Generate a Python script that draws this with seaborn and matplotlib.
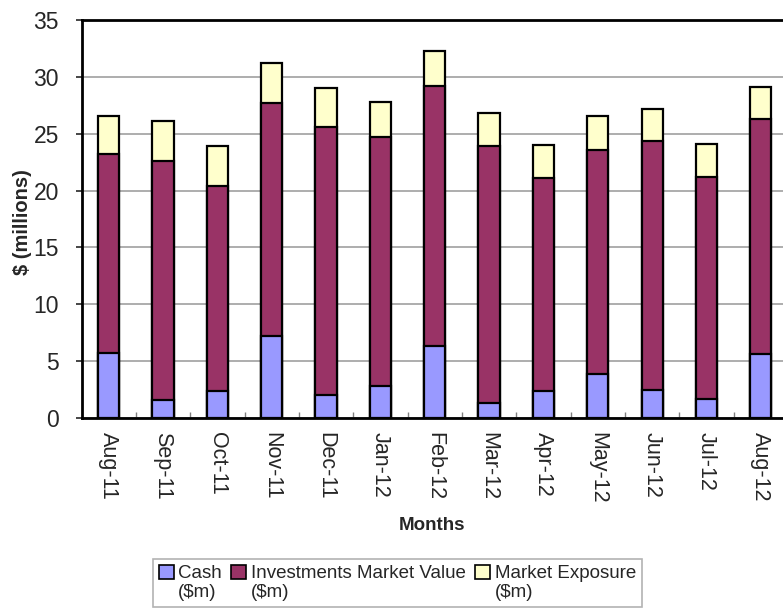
import numpy as np
import pandas as pd
import seaborn as sns
import matplotlib
matplotlib.use("Agg")
import matplotlib.pyplot as plt
from matplotlib.patches import Patch
from matplotlib.ticker import FixedLocator

months = ["Aug-11", "Sep-11", "Oct-11", "Nov-11", "Dec-11", "Jan-12", "Feb-12",
          "Mar-12", "Apr-12", "May-12", "Jun-12", "Jul-12", "Aug-12"]
cash = [5.7, 1.6, 2.4, 7.2, 2.0, 2.8, 6.3, 1.3, 2.4, 3.9, 2.5, 1.7, 5.6]
investments = [17.5, 21.0, 18.0, 20.5, 23.6, 21.9, 22.9, 22.6, 18.7, 19.7, 21.9, 19.5, 20.7]
exposure = [3.4, 3.5, 3.5, 3.5, 3.4, 3.1, 3.1, 2.9, 2.9, 3.0, 2.8, 2.9, 2.8]

labels = ["Cash\n($m)", "Investments Market Value\n($m)", "Market Exposure\n($m)"]
colors = ["#9999FF", "#993366", "#FFFFCC"]

sns.set_style("white")
plt.rcParams["font.family"] = ["Liberation Sans", "DejaVu Sans"]

df = pd.DataFrame({"month": months, "cash": cash, "inv": investments, "exp": exposure})
df["lvl1"] = df["cash"]
df["lvl2"] = df["cash"] + df["inv"]
df["lvl3"] = df["lvl2"] + df["exp"]

fig = plt.figure(figsize=(7.83, 6.14), dpi=100)
ax = fig.add_axes([82 / 783, (614 - 418) / 614, (788 - 82) / 783, (418 - 20) / 614])

width = 0.39
for col, c in [("lvl3", colors[2]), ("lvl2", colors[1]), ("lvl1", colors[0])]:
    sns.barplot(data=df, x="month", y=col, color=c, width=width, edgecolor="black",
                linewidth=1.6, saturation=1, ax=ax, zorder=3)

ax.set_xlim(-0.49, 12.5)
ax.set_ylim(0, 35)
ax.set_yticks(np.arange(0, 36, 5))
ax.yaxis.grid(True, color="#A0A0A0", linewidth=1.2, zorder=0)
ax.set_axisbelow(True)

for s in ["left", "top", "bottom"]:
    ax.spines[s].set_linewidth(2)
    ax.spines[s].set_color("black")
ax.spines["right"].set_visible(False)

ax.tick_params(axis="y", which="major", direction="out", length=4.5, width=1.2,
               labelsize=16.5, pad=12, left=True)
ax.tick_params(axis="x", which="major", length=0, labelsize=15.5, pad=10)
ax.set_xticks(range(len(months)))
ax.set_xticklabels(months, rotation=270, va="top", ha="center")
ax.xaxis.set_minor_locator(FixedLocator(np.arange(0.5, 12, 1)))
ax.tick_params(axis="x", which="minor", direction="in", length=4, width=1,
               color="#808080", bottom=True)

ax.set_xlabel("Months", fontsize=13.5, fontweight="bold")
ax.set_ylabel("$ (millions)", fontsize=14.5, fontweight="bold")
ax.xaxis.set_label_coords((432 - 82) / (788 - 82), -(517 - 418) / 398)
ax.yaxis.set_label_coords(-(82 - 32) / 706, (418 - 222) / 398)

handles = [Patch(facecolor=c, edgecolor="black", linewidth=1.2) for c in colors]
leg = fig.legend(handles, labels, loc="upper left",
                 bbox_to_anchor=(153 / 783, 1 - 559 / 614), ncol=3,
                 fontsize=13.5, frameon=True, fancybox=False, edgecolor="#A0A0A0",
                 handlelength=0.8, handleheight=0.8, handletextpad=0.25,
                 columnspacing=0.5, borderpad=0.3, borderaxespad=0,
                 labelspacing=0.1)
leg.get_frame().set_linewidth(1.2)
for col in leg._legend_handle_box.get_children():
    for item in col.get_children():
        item.align = "top"

fig.savefig("out.png", dpi=100)
